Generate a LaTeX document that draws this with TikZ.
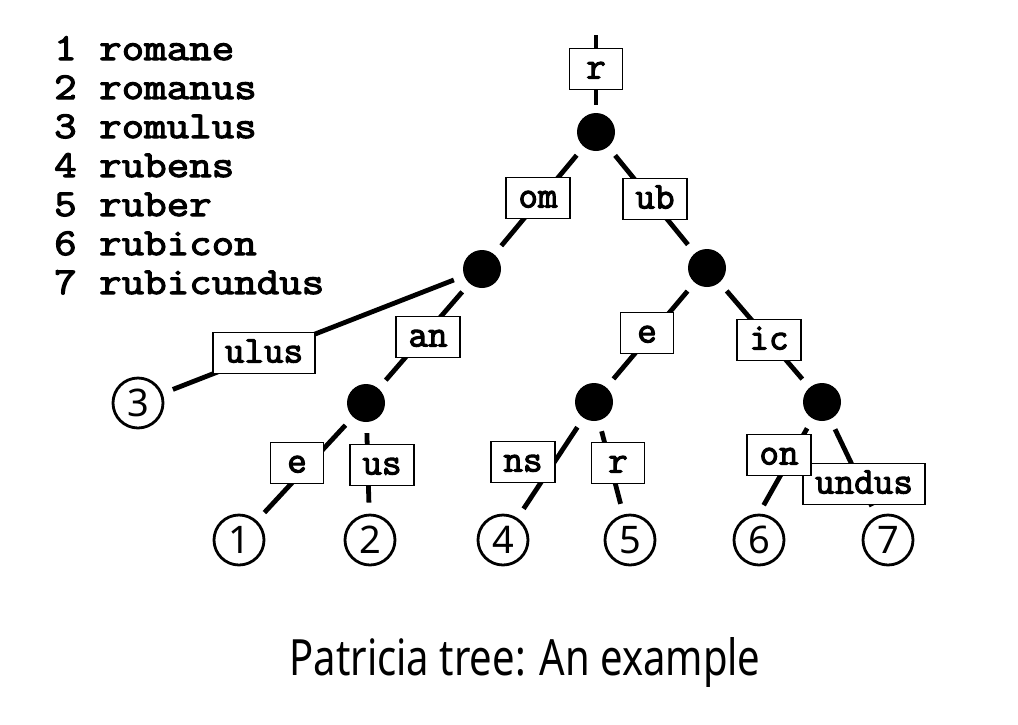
\documentclass[tikz,border=0pt]{standalone}
\usepackage{fontspec}
\setmainfont{Noto Sans}
\setmonofont{Latin Modern Mono}[AutoFakeBold=2.8]
\newfontfamily\wordfont{Latin Modern Mono}[FakeBold=3, FakeStretch=1.15]
\newfontfamily\captionfont{Noto Sans}[FakeStretch=0.8]
\tikzset{
  edge/.style={line width=4.8pt, shorten <=11pt, shorten >=11pt},
  fork/.style={circle, fill=black, minimum size=38pt, inner sep=0pt},
  leaf/.style={circle, draw, line width=2.8pt, minimum size=50pt, inner sep=0pt,
    font=\fontsize{38}{38}\selectfont},
  lab/.style={draw, fill=white, line width=1.9pt, minimum width=53pt, minimum height=41pt,
    inner xsep=12pt, inner ysep=0pt, text height=20pt, text depth=1pt,
    font=\fontsize{38}{38}\selectfont\ttfamily\bfseries},
  word/.style={anchor=base west, inner sep=0pt, text height=26pt, text depth=2pt,
    font=\fontsize{38}{38}\selectfont\wordfont},
}
\begin{document}
\begin{tikzpicture}[x=1pt,y=-1pt]
\useasboundingbox (0,0) rectangle (1018,724);
% word list
\node[word] (w1) at (54,60) {1 romane};
\node[word] (w2) at (54,99) {2 romanus};
\node[word] (w3) at (54,138) {3 romulus};
\node[word] (w4) at (54,177) {4 rubens};
\node[word] (w5) at (54,216) {5 ruber};
\node[word] (w6) at (54,255) {6 rubicon};
\node[word] (w7) at (54,294) {7 rubicundus};
% inner nodes and leaves
\coordinate (top) at (596,35);
\node[fork] (root) at (596,132) {};
\node[fork] (om) at (482,269) {};
\node[fork] (ub) at (707,268) {};
\node[fork] (oman) at (366,403) {};
\node[fork] (ube) at (594,402) {};
\node[fork] (ubic) at (822,402) {};
\node[leaf] (l1) at (239,540) {1};
\node[leaf] (l2) at (370,540) {2};
\node[leaf] (l3) at (138,403) {3};
\node[leaf] (l4) at (503,540) {4};
\node[leaf] (l5) at (630,540) {5};
\node[leaf] (l6) at (759,540) {6};
\node[leaf] (l7) at (888,540) {7};
% branches
\draw[edge, shorten <=0pt, shorten >=8pt] (top) -- (root);
\draw[edge] (root) -- (om);
\draw[edge] (root) -- (ub);
\draw[edge] (om) -- (l3);
\draw[edge] (om) -- (oman);
\draw[edge] (oman) -- (l1);
\draw[edge] (oman) -- (l2);
\draw[edge] (ub) -- (ube);
\draw[edge] (ub) -- (ubic);
\draw[edge] (ube) -- (l4);
\draw[edge] (ube) -- (l5);
\draw[edge, shorten >=40pt] (ubic) -- ([xshift=-15pt]l6.center);
\draw[edge] (ubic) -- (l7);
% edge labels
\node[lab] (r) at (596,69) {r};
\node[lab] (omlab) at (538,198) {om};
\node[lab] (ublab) at (655,199) {ub};
\node[lab] (ulus) at (264,353) {ulus};
\node[lab] (an) at (428,337) {an};
\node[lab] (e) at (297,463) {e};
\node[lab] (us) at (382,465) {us};
\node[lab] (e2) at (647,333) {e};
\node[lab] (ic) at (769,340) {ic};
\node[lab] (ns) at (523,462) {ns};
\node[lab] (r2) at (618,463) {r};
\node[lab] (undus) at (864,484) {undus};
\node[lab] (on) at (779,455) {on};
% caption
\node[font=\fontsize{50}{50}\captionfont] (caption) at (525,662) {Patricia tree: An example};
\end{tikzpicture}
\end{document}
